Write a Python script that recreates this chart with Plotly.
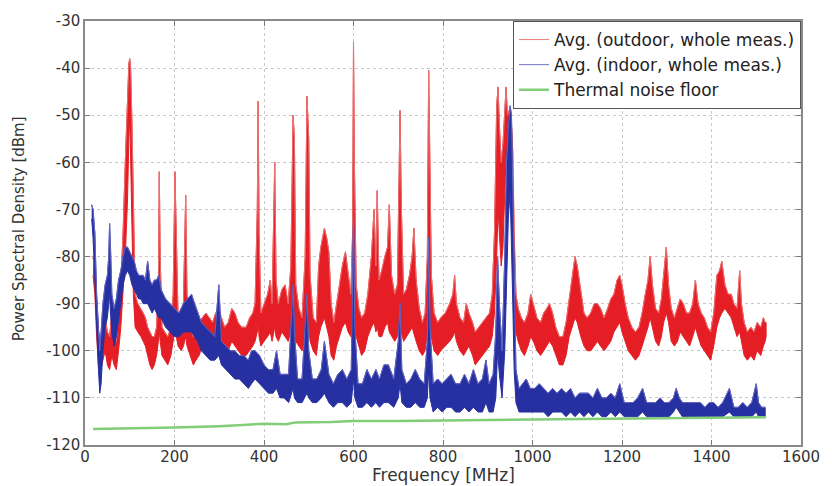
import plotly.graph_objects as go

# ---------------- data ----------------
# Outdoor average (red): frequency [MHz], lower and upper edge of the trace [dBm]
red_f = [
    18, 22, 26, 30, 35, 40, 45, 50, 55, 60,
    65, 70, 75, 80, 85, 90, 95, 98, 100, 102,
    105, 108, 112, 118, 125, 130, 135, 140, 145, 150,
    155, 160, 164, 166, 168, 172, 178, 185, 192, 197,
    201, 204, 208, 215, 220, 225, 228, 235, 242, 248,
    255, 262, 270, 278, 285, 292, 298, 305, 312, 320,
    328, 335, 342, 350, 360, 368, 375, 380, 385, 387,
    389, 393, 400, 408, 414, 418, 424, 427, 432, 440,
    447, 454, 460, 465, 468, 471, 478, 485, 492, 496,
    500, 503, 510, 517, 522, 527, 535, 540, 545, 550,
    556, 562, 568, 575, 582, 588, 594, 598, 600, 602,
    606, 612, 618, 625, 632, 640, 646, 650, 653, 657,
    663, 670, 676, 680, 685, 692, 698, 702, 704, 707,
    712, 718, 725, 731, 735, 740, 747, 754, 760, 765,
    768, 770, 774, 780, 788, 795, 805, 815, 822, 826,
    830, 838, 846, 852, 858, 866, 872, 880, 888, 896,
    904, 910, 915, 920, 923, 926, 930, 934, 938, 941,
    944, 948, 952, 956, 959, 963, 968, 975, 982, 990,
    996, 1002, 1010, 1018, 1025, 1032, 1038, 1045, 1052, 1060,
    1068, 1075, 1082, 1088, 1095, 1100, 1108, 1115, 1122, 1130,
    1138, 1145, 1152, 1160, 1168, 1175, 1182, 1189, 1195, 1200,
    1207, 1214, 1222, 1230, 1238, 1245, 1252, 1258, 1263, 1268,
    1275, 1282, 1288, 1293, 1299, 1304, 1310, 1317, 1324, 1330,
    1337, 1344, 1351, 1358, 1364, 1370, 1377, 1384, 1391, 1398,
    1405, 1412, 1418, 1423, 1430, 1437, 1444, 1450, 1457, 1463,
    1467, 1473, 1480, 1488, 1495, 1502, 1510, 1516, 1520, 1522,
]
red_lo = [
    -84, -88, -97, -103, -104, -102, -100, -103, -104, -101,
    -103, -104, -100, -95, -88, -80, -68, -55, -50, -55,
    -75, -88, -95, -96, -97, -98, -99, -101, -103, -104,
    -103, -101, -98, -96, -98, -101, -102, -103, -101, -98,
    -95, -97, -99, -100, -99, -97, -99, -101, -103, -102,
    -101, -99, -99, -100, -100, -99, -98, -100, -101, -100,
    -98, -99, -100, -101, -101, -100, -99, -98, -96, -94,
    -97, -99, -98, -97, -96, -98, -95, -97, -98, -96,
    -97, -98, -96, -92, -95, -98, -99, -100, -97, -93,
    -95, -98, -100, -101, -97, -95, -93, -95, -97, -101,
    -102, -99, -97, -95, -94, -96, -97, -95, -90, -94,
    -97, -99, -101, -100, -97, -95, -94, -96, -95, -97,
    -97, -95, -94, -96, -97, -98, -97, -95, -92, -96,
    -98, -97, -96, -95, -96, -98, -100, -101, -100, -96,
    -90, -93, -97, -100, -101, -100, -99, -98, -97, -96,
    -98, -100, -101, -100, -99, -101, -103, -102, -101, -100,
    -99, -97, -92, -80, -70, -75, -82, -78, -66, -58,
    -60, -56, -62, -75, -88, -96, -98, -100, -101, -99,
    -97, -98, -100, -101, -100, -99, -98, -99, -101, -103,
    -103, -101, -97, -95, -93, -94, -97, -99, -100, -100,
    -99, -98, -99, -100, -99, -98, -96, -95, -94, -96,
    -98, -100, -101, -102, -101, -99, -97, -95, -93, -95,
    -98, -99, -97, -94, -92, -94, -98, -99, -98, -96,
    -97, -98, -99, -97, -95, -97, -99, -100, -101, -102,
    -99, -95, -93, -92, -91, -92, -93, -95, -97, -96,
    -98, -101, -102, -101, -102, -100, -101, -99, -98, -97,
]
red_hi = [
    -80, -83, -90, -96, -98, -95, -93, -96, -97, -92,
    -96, -98, -93, -86, -75, -60, -45, -39, -38, -40,
    -52, -70, -88, -90, -91, -92, -93, -95, -96, -97,
    -97, -95, -85, -62, -80, -95, -96, -97, -95, -88,
    -62, -75, -93, -94, -90, -67, -88, -95, -97, -96,
    -94, -93, -92, -93, -94, -92, -91, -93, -95, -94,
    -91, -92, -94, -95, -95, -93, -92, -90, -70, -47,
    -75, -92, -90, -88, -85, -90, -60, -85, -90, -87,
    -86, -90, -82, -50, -55, -86, -91, -93, -80, -46,
    -55, -84, -93, -94, -82, -78, -74, -76, -79, -90,
    -94, -90, -87, -82, -79, -83, -88, -75, -34.5, -60,
    -86, -91, -93, -92, -88, -80, -70, -82, -66, -85,
    -83, -80, -78, -69, -84, -88, -86, -62, -49, -70,
    -88, -87, -84, -80, -74, -85, -91, -94, -92, -80,
    -40.5, -55, -84, -92, -94, -93, -92, -90, -88, -84,
    -90, -93, -94, -90, -92, -94, -96, -95, -94, -93,
    -92, -88, -75, -48, -44, -52, -60, -56, -48, -44,
    -50, -49, -50, -58, -75, -88, -91, -93, -94, -92,
    -88, -90, -93, -94, -92, -91, -90, -92, -95, -97,
    -97, -94, -89, -84, -80, -82, -88, -92, -93, -92,
    -90, -90, -91, -93, -91, -89, -88, -85, -84, -86,
    -90, -93, -95, -96, -95, -92, -88, -85, -80, -86,
    -91, -92, -89, -84, -78, -86, -91, -93, -91, -89,
    -90, -92, -92, -90, -85, -90, -92, -93, -95, -96,
    -92, -84, -83, -81, -86, -88, -88, -90, -91, -83,
    -90, -94, -96, -95, -96, -94, -95, -93, -94, -94,
]

# Indoor average (blue)
blue_f = [
    15, 18, 22, 26, 30, 33, 36, 40, 45, 50,
    53, 55, 57, 60, 65, 70, 75, 80, 85, 90,
    95, 100, 105, 110, 115, 120, 125, 130, 135, 140,
    145, 150, 155, 160, 165, 170, 175, 180, 190, 200,
    210, 220, 230, 238, 245, 252, 260, 270, 280, 290,
    299, 305, 315, 325, 335, 345, 355, 365, 372, 380,
    390, 400, 410, 420, 428, 436, 445, 455, 465, 468,
    475, 485, 496, 500, 508, 518, 528, 535, 545, 555,
    565, 575, 585, 595, 600, 603, 610, 620, 630, 640,
    650, 658, 668, 678, 690, 700, 704, 708, 718, 728,
    738, 748, 758, 765, 768, 771, 778, 788, 798, 808,
    818, 828, 838, 848, 858, 868, 878, 888, 896, 903,
    912, 918, 922, 926, 932, 938, 942, 946, 950, 953,
    956, 959, 963, 970, 978, 986, 995, 1005, 1015, 1025,
    1035, 1045, 1055, 1065, 1075, 1085, 1095, 1105, 1115, 1125,
    1135, 1145, 1155, 1165, 1175, 1185, 1195, 1205, 1215, 1225,
    1235, 1246, 1255, 1265, 1275, 1285, 1295, 1305, 1315, 1321,
    1328, 1335, 1345, 1355, 1365, 1375, 1385, 1395, 1405, 1415,
    1425, 1440, 1450, 1460, 1470, 1480, 1490, 1500, 1505, 1512,
    1520,
]
blue_lo = [
    -72, -76, -85, -96, -104, -109, -107, -100, -95, -93,
    -90, -88, -92, -96, -99, -97, -94, -90, -86, -84,
    -83, -84, -86, -87, -88, -89, -89, -90, -90, -90,
    -91, -92, -91, -92, -93, -93, -94, -95, -96, -97,
    -97, -96, -96, -96, -97, -98, -100, -101, -102, -102,
    -101, -103, -104, -105, -106, -106, -107, -108, -107, -106,
    -107, -108, -109, -109, -108, -110, -110, -111, -108, -110,
    -111, -111, -109, -110, -111, -111, -110, -109, -111, -112,
    -111, -111, -112, -111, -106, -110, -112, -112, -111, -112,
    -111, -112, -111, -111, -112, -110, -107, -111, -112, -112,
    -111, -112, -112, -110, -104, -110, -113, -112, -113, -112,
    -112, -113, -113, -112, -113, -112, -113, -113, -111, -113,
    -113, -110, -100, -105, -110, -100, -85, -72, -66, -75,
    -90, -104, -111, -113, -113, -113, -113, -113, -113, -113,
    -114, -113, -113, -113, -114, -113, -114, -113, -114, -113,
    -114, -113, -114, -114, -113, -114, -113, -114, -114, -114,
    -114, -113, -114, -114, -114, -114, -114, -114, -113, -112,
    -113, -114, -114, -114, -114, -114, -114, -114, -114, -114,
    -114, -113, -114, -114, -114, -114, -114, -113, -114, -114,
    -114,
]
blue_hi = [
    -69, -70, -75, -88, -95, -100, -96, -90, -86, -84,
    -80, -73, -78, -88, -91, -89, -85, -83, -80, -78,
    -78, -79, -80, -81, -83, -84, -84, -84, -85, -81,
    -85, -86, -85, -85, -84, -87, -88, -89, -90, -91,
    -92, -90, -89, -88, -90, -92, -94, -95, -96, -97,
    -86, -98, -99, -100, -100, -101, -101, -102, -100, -100,
    -101, -103, -104, -104, -100, -105, -105, -105, -86, -96,
    -106, -106, -88, -100, -106, -106, -104, -98, -105, -107,
    -105, -104, -106, -104, -72, -95, -107, -107, -104, -106,
    -104, -106, -103, -103, -106, -98, -90, -104, -107, -106,
    -104, -106, -107, -98, -76, -95, -107, -106, -107, -106,
    -105, -107, -107, -105, -107, -104, -107, -106, -102, -107,
    -105, -96, -80, -90, -100, -80, -60, -53, -48, -50,
    -68, -90, -104, -108, -107, -106, -108, -108, -107, -108,
    -109, -108, -109, -108, -109, -108, -110, -109, -109, -109,
    -110, -108, -110, -110, -109, -110, -107, -111, -111, -111,
    -110, -108, -111, -111, -111, -110, -111, -111, -110, -108,
    -110, -111, -111, -111, -111, -111, -112, -111, -111, -112,
    -111, -108, -112, -112, -111, -112, -111, -107, -111, -112,
    -112,
]

# Thermal noise floor (green)
green_f = [18, 100, 200, 300, 350, 400, 450, 470, 550, 600, 700, 800,
           900, 1000, 1100, 1200, 1300, 1400, 1522]
green_v = [-116.6, -116.5, -116.3, -116.0, -115.7, -115.5, -115.6, -115.2,
           -115.1, -114.9, -114.9, -114.8, -114.7, -114.5, -114.4, -114.3,
           -114.2, -114.2, -114.1]

series_names = ["Avg. (outdoor, whole meas.)", "Avg. (indoor, whole meas.)",
                "Thermal noise floor"]
x_ticks = [0, 200, 400, 600, 800, 1000, 1200, 1400, 1600]
y_ticks = [-120, -110, -100, -90, -80, -70, -60, -50, -40, -30]

# ---------------- figure ----------------
RED = "rgb(228,30,36)"
RED_EDGE = "rgba(236,115,115,0.95)"
BLUE = "rgb(38,48,160)"
BLUE_EDGE = "rgba(105,105,195,0.95)"
GREEN = "rgb(130,205,120)"
FONT = "DejaVu Sans"

fig = go.Figure()


def add_band(f, lo, hi, fill, edge, name):
    fig.add_trace(go.Scatter(
        x=f + f[::-1], y=hi + lo[::-1], mode="lines", fill="toself",
        fillcolor=fill, line=dict(color=fill, width=1),
        showlegend=False, hoverinfo="skip"))
    fig.add_trace(go.Scatter(
        x=f, y=hi, mode="lines", line=dict(color=edge, width=1), name=name))


add_band(red_f, red_lo, red_hi, RED, RED_EDGE, series_names[0])
add_band(blue_f, blue_lo, blue_hi, BLUE, BLUE_EDGE, series_names[1])
fig.add_trace(go.Scatter(x=green_f, y=green_v, mode="lines",
                         line=dict(color=GREEN, width=2.5), name=series_names[2]))

axis_common = dict(
    showline=True, mirror="allticks", linecolor="#8a8a8a", linewidth=1.5,
    ticks="inside", ticklen=5, tickcolor="#777",
    showgrid=True, gridcolor="#c8c8c8", griddash="dot", gridwidth=1,
    zeroline=False, tickfont=dict(family=FONT, size=15, color="#333"),
)

fig.update_layout(
    width=832, height=486,
    margin=dict(l=85, r=24, t=14, b=41),
    paper_bgcolor="white", plot_bgcolor="white",
    font=dict(family=FONT, color="#333"),
    xaxis=dict(range=[0, 1600], tickvals=x_ticks, ticktext=[str(v) for v in x_ticks],
               ticklabelstandoff=-3, **axis_common),
    yaxis=dict(range=[-120, -30], tickvals=y_ticks, ticktext=[str(v) for v in y_ticks],
               **axis_common),
    legend=dict(x=1, y=1.0, xanchor="right", yanchor="top",
                bgcolor="white", bordercolor="#555", borderwidth=1,
                font=dict(family=FONT, size=17, color="#222"),
                itemwidth=30, tracegroupgap=0),
    annotations=[
        dict(text="Frequency [MHz]", xref="paper", yref="paper", x=0.5, y=-0.071,
             xanchor="center", yanchor="middle", showarrow=False,
             font=dict(family=FONT, size=17, color="#333")),
        dict(text="Power Spectral Density [dBm]", xref="paper", yref="paper",
             x=-0.093, y=0.51, xanchor="center", yanchor="middle", textangle=-90,
             showarrow=False, font=dict(family=FONT, size=15, color="#333")),
    ],
)

fig.write_html("out.html")
